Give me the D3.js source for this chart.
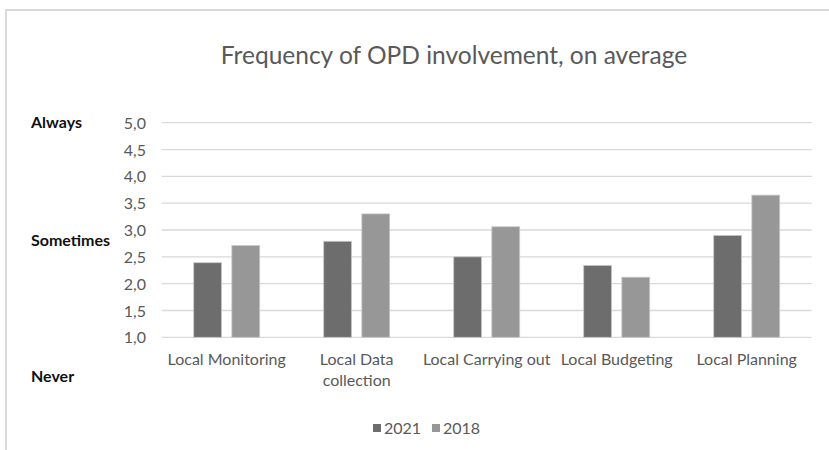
<!DOCTYPE html>
<html><head><meta charset="utf-8">
<script src="https://cdn.jsdelivr.net/npm/d3@7"></script>
<style>body{margin:0;background:#fff}svg{display:block}</style>
</head><body>
<script>
const categories = ["Local Monitoring", "Local Data collection", "Local Carrying out", "Local Budgeting", "Local Planning"];
const categoryLines = [["Local Monitoring"], ["Local Data", "collection"], ["Local Carrying out"], ["Local Budgeting"], ["Local Planning"]];
const seriesNames = ["2021", "2018"];
const values2021 = [2.39, 2.79, 2.50, 2.34, 2.90];
const values2018 = [2.71, 3.30, 3.06, 2.12, 3.65];
const yTicks = [1.0, 1.5, 2.0, 2.5, 3.0, 3.5, 4.0, 4.5, 5.0];
const sideLabels = [["Always", 5.0], ["Sometimes", 2.8], ["Never", 0.28]];
const title = "Frequency of OPD involvement, on average";

(function () {
const W = 829, H = 450;
const colors = ["#6d6d6d", "#979797"];
const font = "Lato, 'Open Sans', sans-serif";
const svg = d3.select("body").append("svg").attr("width", W).attr("height", H);

// frame
svg.append("path").attr("d", `M6,${H} L6,10 L${W},10`).attr("fill", "none").attr("stroke", "#d9d9d9").attr("stroke-width", 2);

const pLeft = 161.7, pRight = 811.7, pTop = 122.7, pBottom = 337.3;
const x = d3.scaleBand().domain(categories).range([pLeft, pRight]);
const y = d3.scaleLinear().domain([1, 5]).range([pBottom, pTop]);

// gridlines
svg.append("g").selectAll("line").data(yTicks).join("line")
  .attr("x1", pLeft).attr("x2", pRight)
  .attr("y1", d => y(d)).attr("y2", d => y(d))
  .attr("stroke", "#d9d9d9").attr("stroke-width", 1.3);

// y axis
const yAxis = d3.axisLeft(y).tickValues(yTicks).tickSize(0).tickPadding(0)
  .tickFormat(d => d3.format(".1f")(d).replace(".", ","));
const ga = svg.append("g").attr("transform", `translate(146,0)`).call(yAxis);
ga.select(".domain").remove();
ga.selectAll("text").attr("fill", "#595959").attr("font-size", 16).attr("font-family", font).attr("dy", "0.35em");

// bars
const x1 = d3.scaleBand().domain(seriesNames).range([0, 66]).paddingInner(0.27);
const series = [values2021, values2018];
const g = svg.append("g");
categories.forEach((c, i) => {
  const cx = x(c) + x.bandwidth() / 2 - 33;
  series.forEach((vals, s) => {
    g.append("rect")
      .attr("x", cx + x1(seriesNames[s]))
      .attr("y", y(vals[i]))
      .attr("width", x1.bandwidth())
      .attr("height", y(1) - y(vals[i]))
      .attr("fill", colors[s])
      .attr("stroke", "#c8c8c8").attr("stroke-width", 0.8);
  });
});

// category labels
const cl = svg.append("g");
categories.forEach((c, i) => {
  const t = cl.append("text").attr("x", x(c) + x.bandwidth() / 2).attr("y", 365)
    .attr("text-anchor", "middle").attr("fill", "#595959").attr("font-size", 16).attr("font-family", font);
  categoryLines[i].forEach((ln, k) => t.append("tspan").attr("x", x(c) + x.bandwidth() / 2).attr("dy", k === 0 ? 0 : 21).text(ln));
});

// side labels
svg.append("g").selectAll("text").data(sideLabels).join("text")
  .attr("x", 31).attr("y", d => y(d[1])).attr("dy", "0.35em")
  .attr("font-size", 16).attr("font-weight", "bold").attr("font-family", font).attr("fill", "#111")
  .text(d => d[0]);

// title
svg.append("text").attr("x", 454).attr("y", 64).attr("text-anchor", "middle")
  .attr("font-size", 24.5).attr("font-family", font).attr("fill", "#595959").text(title);

// legend
const lg = svg.append("g");
const legendX = [373, 432];
seriesNames.forEach((s, i) => {
  lg.append("rect").attr("x", legendX[i]).attr("y", 424).attr("width", 8).attr("height", 8).attr("fill", colors[i]);
  lg.append("text").attr("x", legendX[i] + 11).attr("y", 428).attr("dy", "0.35em")
    .attr("font-size", 16).attr("font-family", font).attr("fill", "#595959").text(s);
});
})();
</script>
</body></html>
